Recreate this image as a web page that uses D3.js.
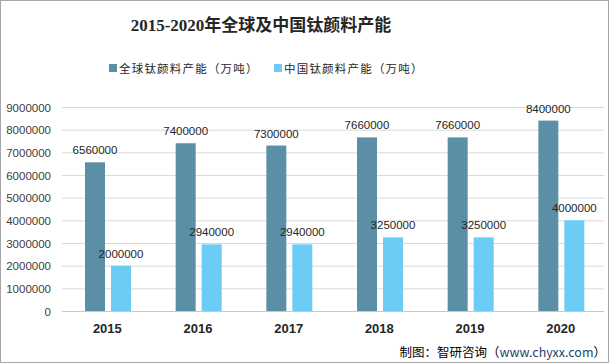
<!DOCTYPE html>
<html>
<head>
<meta charset="utf-8">
<title>2015-2020年全球及中国钛颜料产能</title>
<script src="https://cdn.jsdelivr.net/npm/d3@7"></script>
<style>
  body { margin: 0; background: #fff; }
  text { font-family: "Noto Sans CJK SC", "DejaVu Sans", sans-serif; }
</style>
</head>
<body>
<div id="chart"></div>
<script>
// data
var years = ["2015", "2016", "2017", "2018", "2019", "2020"];
var globalCap = [6560000, 7400000, 7300000, 7660000, 7660000, 8400000];
var chinaCap = [2000000, 2940000, 2940000, 3250000, 3250000, 4000000];
var seriesNames = ["全球钛颜料产能（万吨）", "中国钛颜料产能（万吨）"];
var yTicks = [0, 1000000, 2000000, 3000000, 4000000, 5000000, 6000000, 7000000, 8000000, 9000000];

var width = 609, height = 364;
var colors = ["#5b8fa6", "#6bcdf5"];

var svg = d3.select("#chart").append("svg")
    .attr("width", width)
    .attr("height", height);

// border
svg.append("rect")
  .attr("x", 0.5).attr("y", 0.5)
  .attr("width", width - 1).attr("height", height - 2)
  .attr("fill", "#fff")
  .attr("stroke", "#a6a6a6");

var x = d3.scaleBand().domain(years).range([62, 606]);
var y = d3.scaleLinear().domain([0, 9000000]).range([311, 107]);

// gridlines
svg.append("g")
  .selectAll("line")
  .data(yTicks)
  .enter().append("line")
  .attr("x1", 62).attr("x2", 604)
  .attr("y1", function(d) { return y(d) + 0.5; })
  .attr("y2", function(d) { return y(d) + 0.5; })
  .attr("stroke", function(d) { return d == 0 ? "#c8c8c8" : "#d9d9d9"; })
  .attr("stroke-width", 1);

// y axis labels
var yAxis = d3.axisLeft(y).tickValues(yTicks).tickSize(0).tickPadding(0)
  .tickFormat(function(d) { return String(d); });
var yg = svg.append("g").attr("transform", "translate(51,0)").call(yAxis);
yg.select(".domain").remove();
yg.selectAll("text")
  .attr("fill", "#404040")
  .style("font-size", "11.5px")
  .style("font-family", "'Liberation Sans', sans-serif")
  .attr("dy", "0.35em");

// x axis labels
var xAxis = d3.axisBottom(x).tickSize(0).tickPadding(0);
var xg = svg.append("g").attr("transform", "translate(0,321)").call(xAxis);
xg.select(".domain").remove();
xg.selectAll("text")
  .attr("fill", "#262626")
  .style("font-size", "13px")
  .style("font-weight", "bold")
  .style("font-family", "'Liberation Sans', sans-serif")
  .attr("dy", "0.9em");

// bars
var barW = 20, gap = 6;
var offsets = [23, 23 + barW + gap];
var series = [globalCap, chinaCap];

series.forEach(function(vals, si) {
  var g = svg.append("g");
  g.selectAll("rect")
    .data(vals)
    .enter().append("rect")
    .attr("x", function(d, i) { return x(years[i]) + offsets[si]; })
    .attr("y", function(d) { return y(d); })
    .attr("width", barW)
    .attr("height", function(d) { return y(0) - y(d); })
    .attr("fill", colors[si]);
  g.selectAll("text")
    .data(vals)
    .enter().append("text")
    .attr("x", function(d, i) { return x(years[i]) + offsets[si] + barW / 2; })
    .attr("y", function(d) { return y(d) - 8; })
    .attr("text-anchor", "middle")
    .attr("fill", "#262626")
    .style("font-size", "11.5px")
    .style("font-family", "'Liberation Sans', sans-serif")
    .text(function(d) { return d; });
});

// title
svg.append("text")
  .attr("x", 261).attr("y", 31)
  .attr("text-anchor", "middle")
  .attr("fill", "#262626")
  .style("font-size", "17px")
  .style("font-weight", "bold")
  .style("font-family", "'Liberation Serif', 'Noto Sans CJK SC', serif")
  .text("2015-2020年全球及中国钛颜料产能");

// legend
var legendX = [109, 274];
seriesNames.forEach(function(name, i) {
  svg.append("rect")
    .attr("x", legendX[i]).attr("y", 64)
    .attr("width", 8).attr("height", 8)
    .attr("fill", colors[i]);
  svg.append("text")
    .attr("x", legendX[i] + 10).attr("y", 73)
    .attr("fill", "#262626")
    .style("font-size", "11.5px")
    .style("letter-spacing", "1.2px")
    .text(name);
});

// source note
var src = svg.append("text")
  .attr("x", 606).attr("y", 357)
  .attr("text-anchor", "end")
  .style("font-size", "12.5px")
  .attr("fill", "#000");
src.append("tspan").text("制图：智研咨询（");
src.append("tspan").attr("fill", "#1f3f6e").text("www.chyxx.com");
src.append("tspan").text("）");
</script>
</body>
</html>
